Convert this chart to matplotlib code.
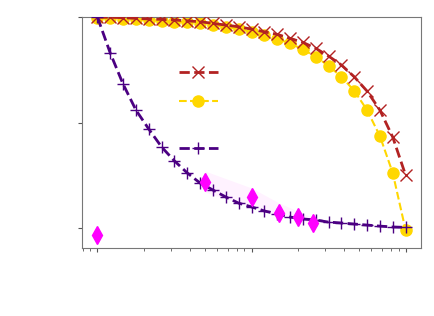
import numpy as np
import matplotlib
matplotlib.use("Agg")
import matplotlib.pyplot as plt

# x positions: 25 log-spaced steps from 1 to 100
x = np.logspace(0, 2, 25)

red_x = [0.999, 0.999, 0.997, 0.994, 0.991, 0.989, 0.986, 0.982, 0.978, 0.970,
         0.962, 0.954, 0.943, 0.930, 0.918, 0.899, 0.880, 0.852, 0.815, 0.773,
         0.717, 0.649, 0.559, 0.431, 0.251]
gold_o = [0.994, 0.994, 0.991, 0.989, 0.986, 0.981, 0.978, 0.975, 0.970, 0.962,
          0.954, 0.943, 0.930, 0.915, 0.896, 0.875, 0.847, 0.812, 0.769, 0.717,
          0.651, 0.559, 0.436, 0.261, -0.009]
purple_p = [1.000, 0.829, 0.682, 0.559, 0.469, 0.384, 0.318, 0.261, 0.213, 0.180,
            0.147, 0.118, 0.100, 0.081, 0.066, 0.052, 0.043, 0.038, 0.028, 0.024,
            0.019, 0.014, 0.009, 0.005, 0.003]

diam_x = [1, 5, 10, 15, 20, 25]
diam_y = [-0.033, 0.217, 0.145, 0.073, 0.051, 0.022]

band_x = [5, 10, 15, 20, 25]
band_lo = [0.17, 0.10, 0.065, 0.045, 0.02]
band_hi = [0.27, 0.19, 0.12, 0.08, 0.05]

fig = plt.figure(figsize=(4.34, 3.16), dpi=100)
ax = fig.add_axes([0.189, 0.215, 0.781, 0.731])

l_gold, = ax.plot(x, gold_o, '--o', color='#ffd700', lw=1.5, ms=8, zorder=2)
l_red, = ax.plot(x, red_x, '--x', color='#b22222', lw=2, ms=9, mew=1.0, zorder=3)
l_pur, = ax.plot(x, purple_p, '--+', color='#4b0082', lw=2, ms=8.5, mew=1.0, zorder=4)
ax.fill_between(band_x, band_lo, band_hi, color='#ff00ff', alpha=0.05, lw=0, zorder=1)
ax.plot(diam_x, diam_y, 'd', color='#ff00ff', ms=9, ls='none', zorder=5)

ax.set_xscale('log')
ax.set_ylim(-0.095, 1.0)
ax.set_yticks([0, 0.5, 1.0])
ax.set_xticklabels([], minor=True)
ax.set_xticklabels([])
ax.set_yticklabels([])
ax.tick_params(which='both', color='#555555', length=3)
ax.tick_params(which='minor', length=2)
for s in ax.spines.values():
    s.set_color('#777777')

leg1 = ax.legend([l_red, l_gold], ['', ''], loc='center', frameon=False,
                 bbox_to_anchor=(0.36, 0.697), handlelength=2.8, labelspacing=1.1)
ax.add_artist(leg1)
ax.legend([l_pur], [''], loc='center', frameon=False,
          bbox_to_anchor=(0.36, 0.43), handlelength=2.8)

plt.savefig('out.png', format='png')
